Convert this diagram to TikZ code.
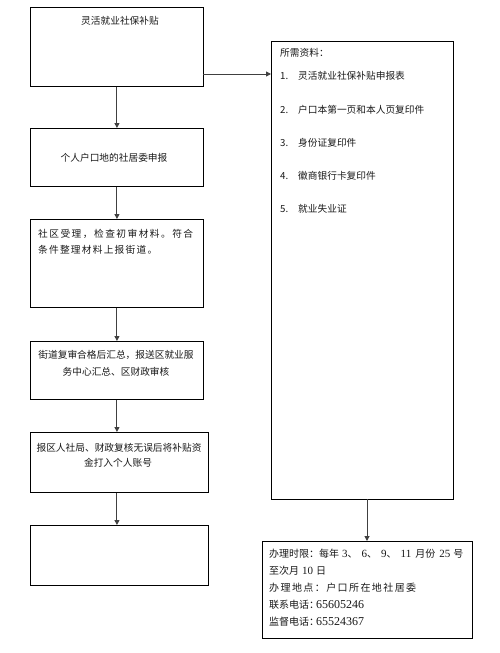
\documentclass[tikz,border=0pt]{standalone}
\usepackage{fontspec}
\setmainfont{Liberation Serif}
\newfontfamily\cjk{Noto Sans CJK SC}
\usetikzlibrary{arrows.meta}
\newcommand\nm[1]{{\rmfamily\fontsize{11}{12}\selectfont #1}}
\makeatletter
\def\spreadchars#1{\spr@a#1\relax}
\def\spr@a#1{#1\spr@b}
\def\spr@b#1{\ifx#1\relax\else\hfill#1\expandafter\spr@b\fi}
\makeatother
\begin{document}
\begin{tikzpicture}[x=1pt,y=-1pt,
  box/.style={draw=black,line width=0.9pt,anchor=north west,inner sep=0pt},
  txt/.style={inner sep=0pt,text=black!90,font=\cjk\fontsize{9.7}{12}\selectfont},
  low/.style={txt,font=\cjk\fontsize{10}{12}\selectfont},
  conn/.style={draw=black!75,line width=1pt,-{Triangle[length=5pt,width=5pt]}}]
\useasboundingbox (0,0) rectangle (499,653);
% left column boxes
\node[box,minimum width=173pt,minimum height=79pt] (b1) at (30,7) {};
\node[box,minimum width=173pt,minimum height=58pt] (b2) at (30,128) {};
\node[box,minimum width=173pt,minimum height=88pt] (b3) at (30,219) {};
\node[box,minimum width=173pt,minimum height=58pt] (b4) at (30,341) {};
\node[box,minimum width=178pt,minimum height=60pt] (b5) at (30,432) {};
\node[box,minimum width=178pt,minimum height=60pt] (b6) at (30,525) {};
% right boxes
\node[box,minimum width=182pt,minimum height=458pt] (r1) at (271,41) {};
\node[box,minimum width=210pt,minimum height=97pt] (r2) at (262,541) {};
% texts
\node[txt] (t1) at (120,21) {灵活就业社保补贴};
\node[txt] (t2) at (114,158) {个人户口地的社居委申报};
\node[txt,anchor=west] (t3a) at (38,234) {\hbox to 155pt{\spreadchars{社区受理，检查初审材料。符合}}};
\node[txt,anchor=west] (t3b) at (38,250) {\hbox to 119pt{\spreadchars{条件整理材料上报街道。}}};
\node[txt] (t4a) at (116,355) {街道复审合格后汇总，报送区就业服};
\node[txt] (t4b) at (116,372) {务中心汇总、区财政审核};
\node[txt] (t5a) at (119,448) {报区人社局、财政复核无误后将补贴资};
\node[txt] (t5b) at (118,463) {金打入个人账号};
% right box texts
\node[txt,anchor=west] (s0) at (280,53) {所需资料：};
\node[txt,anchor=west] (n1) at (280,76) {1.};
\node[txt,anchor=west] (s1) at (298,76) {灵活就业社保补贴申报表};
\node[txt,anchor=west] (n2) at (280,110) {2.};
\node[txt,anchor=west] (s2) at (298,110) {户口本第一页和本人页复印件};
\node[txt,anchor=west] (n3) at (280,143) {3.};
\node[txt,anchor=west] (s3) at (298,143) {身份证复印件};
\node[txt,anchor=west] (n4) at (280,176) {4.};
\node[txt,anchor=west] (s4) at (298,176) {徽商银行卡复印件};
\node[txt,anchor=west] (n5) at (280,209) {5.};
\node[txt,anchor=west] (s5) at (298,209) {就业失业证};
% bottom right texts
\node[low,anchor=west] (u1) at (269,554) {办理时限：每年\hspace{3pt}\nm{3}、\hspace{4pt}\nm{6}、\hspace{4pt}\nm{9}、\hspace{4pt}\nm{11}\hspace{4pt}月份\hspace{4pt}\nm{25}\hspace{3pt}号};
\node[low,anchor=west] (u2) at (269,571) {至次月\hspace{3pt}\nm{10}\hspace{3pt}日};
\node[low,anchor=west] (u3) at (269,588) {\hbox to 147pt{\spreadchars{办理地点：户口所在地社居委}}};
\node[low,anchor=west] (u4) at (269,605) {联系电话：\kern-3pt{\rmfamily\fontsize{12}{12}\selectfont 65605246}};
\node[low,anchor=west] (u5) at (269,622) {监督电话：\kern-3pt{\rmfamily\fontsize{12}{12}\selectfont 65524367}};
% connectors
\coordinate (a1) at (203,74);
\coordinate (rb) at (367,499);
\draw[conn] (b1.south) -- (b2.north);
\draw[conn] (b2.south) -- (b3.north);
\draw[conn] (b3.south) -- (b4.north);
\draw[conn] (b4.south) -- (b4.south |- b5.north);
\draw[conn] (b4.south |- b5.south) -- (b4.south |- b6.north);
\draw[conn] (a1) -- (a1 -| r1.west);
\draw[conn] (rb) -- (rb |- r2.north);
\end{tikzpicture}
\end{document}
